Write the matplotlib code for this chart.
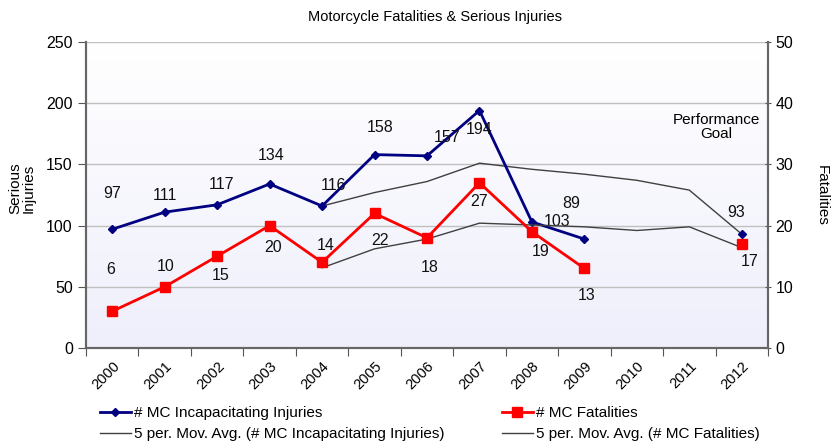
import matplotlib
matplotlib.use('Agg')
import matplotlib.pyplot as plt
import numpy as np

plt.rcParams['font.family'] = ['Liberation Sans', 'DejaVu Sans']

years = ['2000', '2001', '2002', '2003', '2004', '2005', '2006',
         '2007', '2008', '2009', '2010', '2011', '2012']
injuries = [97, 111, 117, 134, 116, 158, 157, 194, 103, 89, None, None, 93]
fatalities = [6, 10, 15, 20, 14, 22, 18, 27, 19, 13, None, None, 17]
# moving averages as drawn (start at 2004)
inj_mavg = [None, None, None, None, 116, 127, 136, 151, 146, 142, 137, 129, 93]
fat_mavg = [None, None, None, None, 13.1, 16.2, 17.8, 20.4, 20.1, 19.8, 19.2, 19.8, 16.4]

# label offsets in pixels (dx, dy)
inj_off = [(0, 36), (0, 17), (4, 20), (2, 28), (11, 21), (6, 27), (20, 18),
           (0, -19), (25, 0), (-13, 36), None, None, (-6, 22)]
fat_off = [(-2, 42), (1, 20), (3, -19), (3, -22), (4, 17), (5, -27), (3, -30),
           (0, -19), (9, -20), (2, -27), None, None, (8, -18)]

def arr(v):
    return np.array([np.nan if x is None else x for x in v], dtype=float)

x = np.arange(len(years)) + 0.5

fig = plt.figure(figsize=(8.33, 4.43), dpi=100)
ax = fig.add_axes([86/833, 1 - 348/443, 682/833, 306/443])
ax2 = ax.twinx()

# gradient background
grad = np.linspace(0, 1, 256).reshape(-1, 1)
top = np.array([1.0, 1.0, 1.0])
bot = np.array([0xef, 0xef, 0xfc]) / 255.0
img = top + (bot - top) * grad[:, :, None]
ax.imshow(img, extent=[0, 1, 0, 1], transform=ax.transAxes, aspect='auto', zorder=0)

ax.set_xlim(0, len(years))
ax.set_ylim(0, 250)
ax2.set_ylim(0, 50)
ax.set_yticks(np.arange(0, 251, 50))
ax2.set_yticks(np.arange(0, 51, 10))
for yv in np.arange(50, 251, 50):
    ax.axhline(yv, color='#c0c0c0', lw=1, zorder=1)

xi = arr(injuries)
xf = arr(fatalities)
mi = arr(inj_mavg)
mf = arr(fat_mavg)

l3, = ax.plot(x, mi, color='#404040', lw=1, zorder=2)
l1, = ax.plot(x, xi, color='#000080', lw=2, marker='D', ms=4.5, zorder=4)
l4, = ax2.plot(x, mf, color='#404040', lw=1, zorder=2)
l2, = ax2.plot(x, xf, color='#ff0000', lw=2, marker='s', ms=7, zorder=4)

for i, v in enumerate(injuries):
    if v is None:
        continue
    ax.annotate(str(v), (x[i], v), xytext=inj_off[i], textcoords='offset pixels',
                ha='center', va='center', fontsize=11.5, color='#111111', zorder=6)
for i, v in enumerate(fatalities):
    if v is None:
        continue
    ax2.annotate(str(v), (x[i], v), xytext=fat_off[i], textcoords='offset pixels',
                 ha='center', va='center', fontsize=11.5, color='#111111', zorder=6)

ax.text(716/833, 1 - 127/443, 'Performance\nGoal', transform=fig.transFigure,
        ha='center', va='center', fontsize=11, linespacing=1.05)

ax.set_xticks(np.arange(len(years) + 1))
ax.set_xticklabels([])
ax.set_xticks(x, minor=True)
ax.set_xticklabels(years, minor=True, rotation=45, fontsize=10.5)
ax.tick_params(axis='x', which='minor', length=0, pad=8)
ax.tick_params(axis='x', which='major', length=6, color='#555555', direction='out')
for lbl in ax.get_xticklabels(minor=True):
    lbl.set_ha('right')
    lbl.set_rotation_mode('anchor')
ax.tick_params(axis='y', length=6, color='#555555', labelsize=11.5, direction='out')
ax2.tick_params(axis='y', length=4, color='#555555', labelsize=11.5, direction='inout')

for a in (ax, ax2):
    a.spines['top'].set_visible(False)
    a.spines['left'].set_color('#666666')
    a.spines['right'].set_color('#666666')
    a.spines['bottom'].set_color('#666666')
    a.spines['left'].set_linewidth(1.5)
    a.spines['right'].set_linewidth(1.5)
    a.spines['bottom'].set_linewidth(1.5)

fig.text(435/833, 1 - 17/443, 'Motorcycle Fatalities & Serious Injuries',
         ha='center', va='center', fontsize=10.5)
fig.text(22/833, 1 - 188/443, 'Serious\nInjuries', rotation=90,
         ha='center', va='center', fontsize=11, linespacing=1.0)
fig.text(822/833, 1 - 195/443, 'Fatalities', rotation=270,
         ha='center', va='center', fontsize=11)

fig.legend([l1, l3, l2, l4],
           ['# MC Incapacitating Injuries', '5 per. Mov. Avg. (# MC Incapacitating Injuries)',
            '# MC Fatalities', '5 per. Mov. Avg. (# MC Fatalities)'],
           ncol=2, loc='upper left', bbox_to_anchor=(100/833, 1 - 406/443),
           frameon=False, fontsize=11, handlelength=2.0, handletextpad=0.2,
           columnspacing=3.8, labelspacing=0.45, borderaxespad=0, borderpad=0)

fig.savefig('out.png', dpi=100)
